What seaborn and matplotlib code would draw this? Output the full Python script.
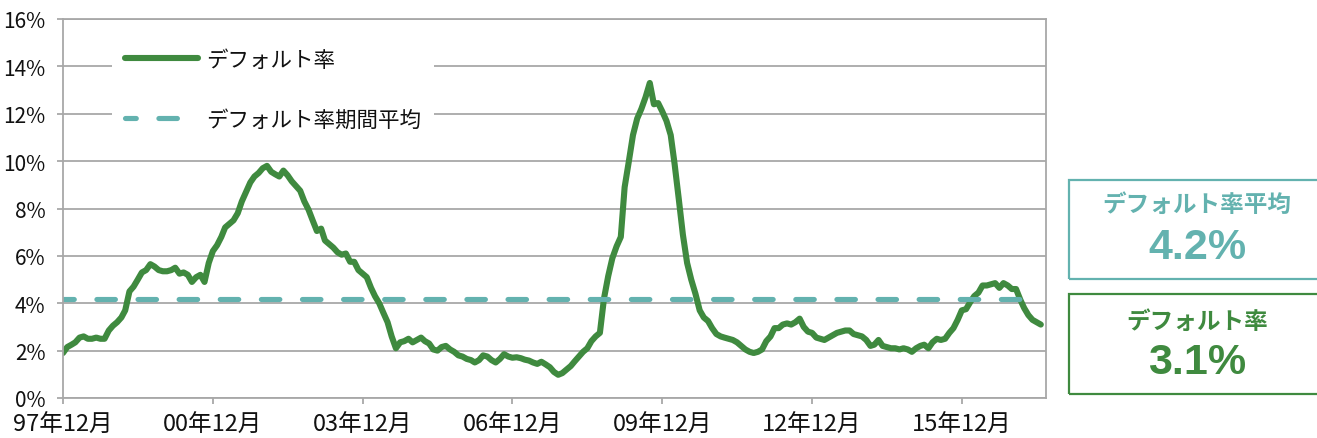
import numpy as np
import pandas as pd
import matplotlib
matplotlib.use("Agg")
import matplotlib.pyplot as plt
import seaborn as sns
from matplotlib.patches import Rectangle

# ---------------- data ----------------
start_month = "1997-12-01"
default_rate = [
    1.9, 2.15, 2.25, 2.35, 2.55, 2.6, 2.5, 2.5, 2.55, 2.5, 2.5, 2.85,
    3.05, 3.2, 3.4, 3.7, 4.5, 4.7, 5.0, 5.3, 5.4, 5.65, 5.55, 5.4,
    5.35, 5.35, 5.4, 5.5, 5.25, 5.3, 5.2, 4.9, 5.1, 5.2, 4.9, 5.7,
    6.2, 6.45, 6.8, 7.2, 7.35, 7.5, 7.8, 8.3, 8.7, 9.1, 9.35, 9.5,
    9.7, 9.8, 9.55, 9.45, 9.35, 9.6, 9.4, 9.15, 8.95, 8.75, 8.3, 7.95,
    7.5, 7.05, 7.15, 6.65, 6.5, 6.35, 6.15, 6.05, 6.1, 5.75, 5.75, 5.4,
    5.25, 5.1, 4.65, 4.3, 4.0, 3.6, 3.2, 2.6, 2.1, 2.35, 2.4, 2.5,
    2.35, 2.45, 2.55, 2.4, 2.3, 2.05, 2.0, 2.15, 2.2, 2.05, 1.95, 1.8,
    1.75, 1.65, 1.6, 1.5, 1.6, 1.8, 1.75, 1.6, 1.5, 1.65, 1.85, 1.75,
    1.7, 1.72, 1.68, 1.62, 1.58, 1.5, 1.44, 1.53, 1.42, 1.3, 1.1, 0.98,
    1.05, 1.2, 1.35, 1.55, 1.75, 1.95, 2.1, 2.4, 2.6, 2.75, 4.2, 5.15,
    5.9, 6.4, 6.8, 8.9, 10.0, 11.1, 11.8, 12.2, 12.7, 13.3, 12.4, 12.45,
    12.1, 11.7, 11.1, 9.9, 8.4, 6.9, 5.7, 5.0, 4.4, 3.7, 3.4, 3.25,
    2.95, 2.7, 2.6, 2.55, 2.5, 2.45, 2.35, 2.2, 2.05, 1.95, 1.9, 1.95,
    2.05, 2.4, 2.6, 2.95, 2.95, 3.1, 3.15, 3.1, 3.2, 3.35, 3.0, 2.8,
    2.75, 2.55, 2.5, 2.45, 2.55, 2.65, 2.75, 2.8, 2.85, 2.85, 2.7, 2.65,
    2.6, 2.45, 2.2, 2.25, 2.45, 2.2, 2.15, 2.1, 2.1, 2.05, 2.1, 2.05,
    1.95, 2.1, 2.2, 2.25, 2.1, 2.35, 2.5, 2.45, 2.5, 2.75, 2.95, 3.3,
    3.7, 3.75, 4.05, 4.3, 4.45, 4.75, 4.75, 4.8, 4.85, 4.65, 4.85, 4.75,
    4.6, 4.6, 4.15, 3.8, 3.5, 3.3, 3.2, 3.1,
]
period_average = 4.2
tick_labels = ["97年12月", "00年12月", "03年12月", "06年12月", "09年12月", "12年12月", "15年12月"]
y_ticks = [0, 2, 4, 6, 8, 10, 12, 14, 16]
series_names = ["デフォルト率", "デフォルト率期間平均"]
box_titles = ["デフォルト率平均", "デフォルト率"]

dates = pd.date_range(start_month, periods=len(default_rate), freq="MS")
df = pd.DataFrame({
    "date": dates,
    "rate": default_rate,
    "avg": [period_average] * len(default_rate),
})

# ---------------- style ----------------
GREEN = "#3F8A3F"
TEAL = "#63B2AF"
GRID = "#A8A8A8"

sns.set_theme(style="white")
plt.rcParams["font.family"] = ["Noto Sans CJK JP", "DejaVu Sans"]

W, H = 1317, 439
fig = plt.figure(figsize=(W / 100, H / 100), dpi=100)
ax = fig.add_axes([63 / W, 1 - 399 / H, (1046 - 63) / W, (399 - 20) / H])

sns.lineplot(data=df, x="date", y="rate", ax=ax, color=GREEN, lw=4.4,
             label=series_names[0], solid_joinstyle="round", solid_capstyle="round")
sns.lineplot(data=df, x="date", y="avg", ax=ax, color=TEAL, lw=3.7,
             linestyle=(1.5, (3.6, 4.4)), dash_capstyle="round",
             label=series_names[1])

ax.set_ylim(0, 16)
ax.set_xlim(dates[0], pd.Timestamp("2017-08-08"))
ax.set_yticks(y_ticks)
ax.set_yticklabels([f"{v}%" for v in y_ticks])
ax.set_xticks(dates[::36][: len(tick_labels)])
ax.set_xticklabels(tick_labels)
ax.set_xlabel("")
ax.set_ylabel("")

ax.set_axisbelow(True)
ax.yaxis.grid(True, color=GRID, lw=1.3)
ax.xaxis.grid(False)
for s in ax.spines.values():
    s.set_color(GRID)
    s.set_linewidth(1.3)

ax.tick_params(axis="y", which="major", left=True, direction="out", length=4.5,
               width=1.3, color=GRID, labelsize=15, pad=8, labelcolor="#111111")
ax.tick_params(axis="x", which="major", bottom=True, direction="out", length=4.5,
               width=1.3, color=GRID, labelsize=17, pad=6.5, labelcolor="#111111")

leg = ax.legend(loc="upper left", bbox_to_anchor=(0.05, 0.955), frameon=True,
                facecolor="white", edgecolor="none", framealpha=1, fancybox=False,
                handlelength=3.4, handletextpad=0.35, labelspacing=1.75,
                borderpad=0.6, borderaxespad=0,
                prop={"family": ["Noto Sans CJK JP"], "size": 15.5})
for t in leg.get_texts():
    t.set_color("#111111")

# ---------------- side boxes ----------------
bx = 1069 / W
fig.patches.append(Rectangle((bx, 1 - 280 / H), 0.3, (280 - 181) / H,
                             transform=fig.transFigure, fill=False,
                             edgecolor=TEAL, lw=1.6))
fig.patches.append(Rectangle((bx, 1 - 395 / H), 0.3, (395 - 295) / H,
                             transform=fig.transFigure, fill=False,
                             edgecolor=GREEN, lw=1.6))

cx = 1197 / W
fig.text(cx, 1 - 205 / H, box_titles[0], color=TEAL, fontsize=17, fontweight="bold",
         ha="center", va="center", family=["Noto Sans CJK JP"])
fig.text(cx, 1 - 248 / H, f"{period_average:.1f}%", color=TEAL, fontsize=31,
         fontweight="bold", ha="center", va="center", family=["Liberation Sans"])
fig.text(cx, 1 - 322 / H, box_titles[1], color=GREEN, fontsize=17, fontweight="bold",
         ha="center", va="center", family=["Noto Sans CJK JP"])
fig.text(cx, 1 - 363 / H, f"{default_rate[-1]:.1f}%", color=GREEN, fontsize=31,
         fontweight="bold", ha="center", va="center", family=["Liberation Sans"])

fig.savefig("out.png", dpi=100)
